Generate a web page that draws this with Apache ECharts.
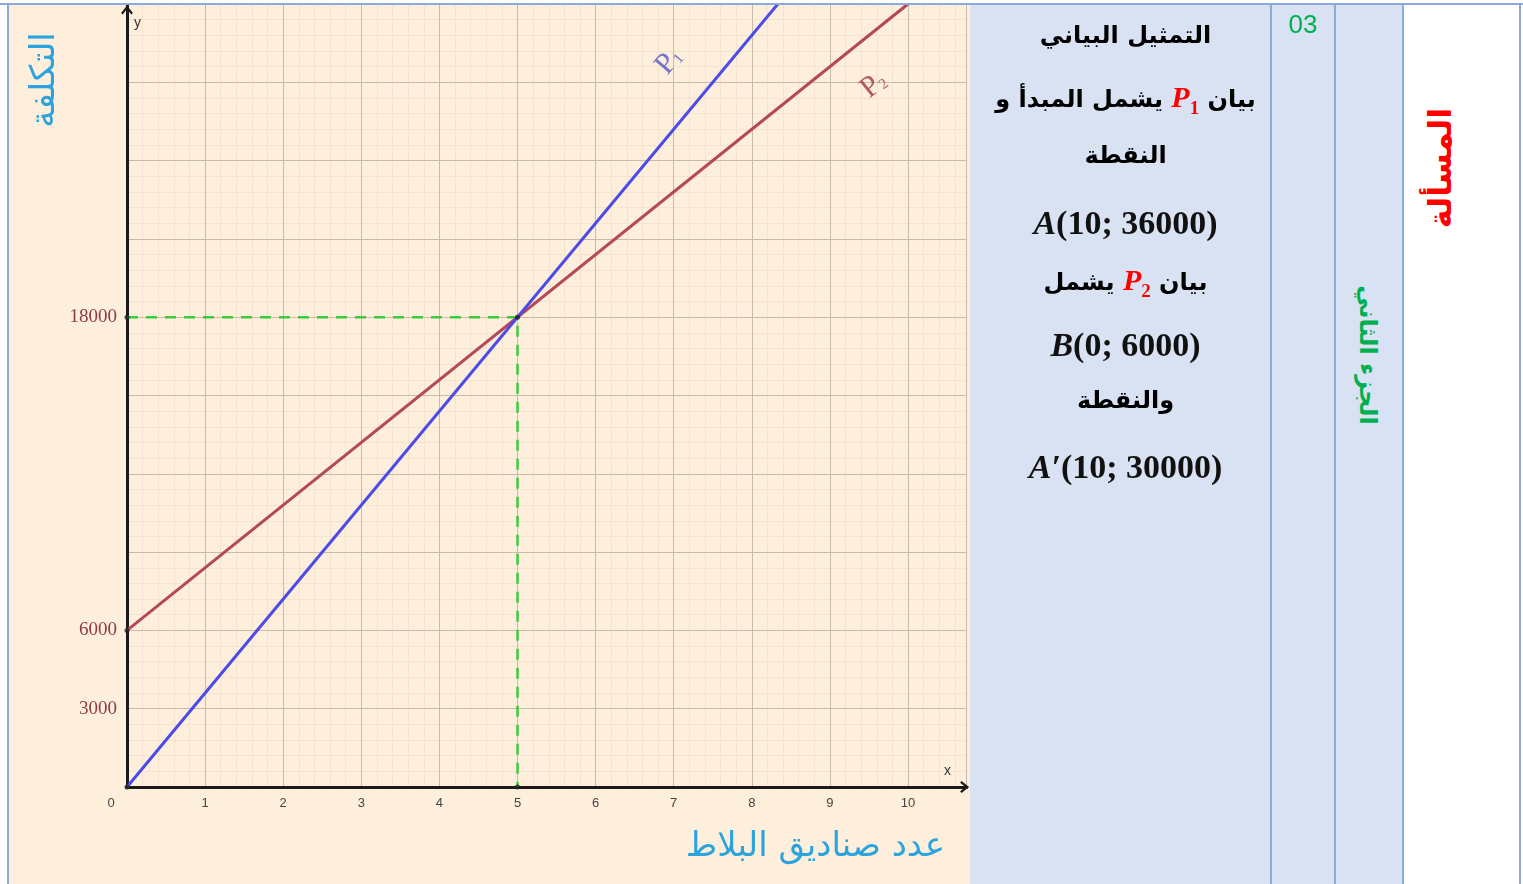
<!DOCTYPE html>
<html>
<head>
<meta charset="utf-8">
<script src="https://cdn.jsdelivr.net/npm/echarts@6/dist/echarts.min.js"></script>
<style>
    body { margin: 0; width: 1523px; height: 884px; overflow: hidden; background: #fff; position: relative; }
    #chart { position: absolute; left: 8px; top: 0; width: 962px; height: 884px; background: #fdefdb; }
    .cell { position: absolute; top: 4px; height: 880px; background: #d9e2f3; }
    .vline { position: absolute; top: 4px; width: 2px; height: 880px; background: #8eaadb; }
    .hline { position: absolute; left: 0; top: 0; width: 1523px; height: 5px; background: #fff; border-bottom: 2px solid #8eaadb; box-sizing: border-box; }
    .ln { position: absolute; left: 975px; width: 301px; height: 44px; line-height: 44px; text-align: center;
          font-family: "DejaVu Sans", sans-serif; font-weight: bold; font-size: 24px; color: #000; white-space: nowrap; }
    .m { font-family: "Liberation Serif", "DejaVu Serif", serif; font-size: 34px; font-weight: bold; color: #111; }
    .p { color: #ff0000; font-family: "Liberation Serif", serif; font-style: italic; font-size: 30px; }
    .p sub { font-style: normal; font-size: 19px; }
    .num { position: absolute; left: 1271px; width: 64px; top: 9px; text-align: center; color: #00b050;
           font-family: "Liberation Sans", sans-serif; font-size: 26px; }
    .rot { position: absolute; font-family: "DejaVu Sans", sans-serif; font-weight: bold; white-space: nowrap; }
</style>
</head>
<body>
<div id="chart"></div>
<div class="cell" style="left:970px; width:433px;"></div>
<div class="hline"></div>
<div class="vline" style="left:7px"></div>
<div class="vline" style="left:1270px"></div>
<div class="vline" style="left:1334px"></div>
<div class="vline" style="left:1402px"></div>
<div class="vline" style="left:1519px"></div>

<div class="num">03</div>
<div class="ln" dir="rtl" style="top:13px">التمثيل البياني</div>
<div class="ln" dir="rtl" style="top:75px">بيان <span class="p">P<sub>1</sub></span> يشمل المبدأ و</div>
<div class="ln" dir="rtl" style="top:133px">النقطة</div>
<div class="ln m" style="top:201px"><i>A</i>(10; 36000)</div>
<div class="ln" dir="rtl" style="top:258px">بيان <span class="p">P<sub>2</sub></span> يشمل</div>
<div class="ln m" style="top:323px"><i>B</i>(0; 6000)</div>
<div class="ln" dir="rtl" style="top:378px">والنقطة</div>
<div class="ln m" style="top:445px"><i>A′</i>(10; 30000)</div>

<div class="rot" dir="rtl" style="left:1368px; top:355px; color:#00b050; font-size:24px; transform: translate(-50%,-50%) rotate(90deg);">الجزء الثاني</div>
<div class="rot" dir="rtl" style="left:1440px; top:168px; color:#ff0000; font-size:32px; transform: translate(-50%,-50%) rotate(-90deg);">المسألة</div>

<script>
    // values
    const xMax = 10.75;
    const yMax = 30000;
    const yLabelValues = [3000, 6000, 18000];
    const p1Points = [[0, 0], [10, 36000]];
    const p2Points = [[0, 6000], [10, 30000]];
    const guidePoints = [[0, 18000], [5, 18000], [5, 0]];
    const markedPoints = [[0, 0], [0, 6000], [0, 18000], [5, 18000], [5, 0]];
    const p1LabelPos = [6.94, 27800];
    const p2LabelPos = [9.56, 26900];

    const chevron = 'path://M5,0 L10,6.4 L8.6,7.6 L5,3 L1.4,7.6 L0,6.4 Z';

    function gridAxis(max, interval, color, z) {
        return {
            type: 'value', min: 0, max: max, interval: interval, z: z,
            axisLine: {show: false}, axisTick: {show: false}, axisLabel: {show: false},
            splitLine: {show: true, lineStyle: {color: color, width: 1}}
        };
    }

    function lineLabel(pos, sub, rot, color) {
        return {
            value: pos,
            label: {
                rotate: rot,
                formatter: '{p|P}{s|' + sub + '}',
                rich: {
                    p: {color: color, fontSize: 30, fontFamily: 'Liberation Serif'},
                    s: {color: color, fontSize: 15, fontFamily: 'Liberation Serif', padding: [12, 0, 0, 0]}
                }
            }
        };
    }

    const chart = echarts.init(document.getElementById('chart'));
    chart.setOption({
        animation: false,
        grid: {left: 119, top: 4, width: 839.6, height: 783},
        xAxis: [
            {
                type: 'value', min: 0, max: xMax, interval: 1, z: 3,
                axisLine: {show: true, onZero: false, symbol: ['none', chevron], symbolSize: [13, 9],
                    symbolOffset: [0, -2], lineStyle: {color: '#1a1a1a', width: 3}},
                axisTick: {show: false},
                splitLine: {show: false},
                axisLabel: {
                    margin: 10, color: '#444', fontSize: 13, fontFamily: 'Liberation Sans',
                    formatter: function (v) {
                        if (v === 0) return '{z|0}';
                        return Number.isInteger(v) ? String(v) : '';
                    },
                    rich: {z: {padding: [0, 32, 0, 0], color: '#444', fontSize: 13, fontFamily: 'Liberation Sans'}}
                }
            },
            gridAxis(xMax, 0.2, '#f6e3cd', 0),
            gridAxis(xMax, 1, '#c9bba9', 1)
        ],
        yAxis: [
            {
                type: 'value', min: 0, max: yMax, interval: 3000, z: 3,
                axisLine: {show: true, onZero: false, symbol: ['none', chevron], symbolSize: [13, 9],
                    symbolOffset: [0, -6], lineStyle: {color: '#1a1a1a', width: 3}},
                axisTick: {show: false},
                splitLine: {show: false},
                axisLabel: {
                    margin: 10, color: '#8e3b46', fontSize: 19, fontFamily: 'Liberation Serif',
                    formatter: function (v) { return yLabelValues.indexOf(v) >= 0 ? String(v) : ''; }
                }
            },
            gridAxis(yMax, 600, '#f6e3cd', 0),
            gridAxis(yMax, 3000, '#c9bba9', 1)
        ],
        series: [
            {
                type: 'line', data: guidePoints, showSymbol: false, z: 4,
                lineStyle: {color: '#3ccb3c', width: 2.5, type: [11, 8]}
            },
            {
                type: 'line', data: p2Points, showSymbol: false, z: 5,
                lineStyle: {color: '#b4475a', width: 3}
            },
            {
                type: 'line', data: p1Points, showSymbol: false, z: 5,
                lineStyle: {color: '#4b4be8', width: 3}
            },
            {
                type: 'scatter', data: markedPoints, symbolSize: 5, z: 6,
                itemStyle: {color: '#222'}
            },
            {
                type: 'scatter', symbolSize: 0, z: 6,
                data: [
                    lineLabel(p1LabelPos, '1', 50, '#5252c4'),
                    lineLabel(p2LabelPos, '2', 39, '#9e3444')
                ],
                label: {show: true, position: 'inside'}
            }
        ],
        graphic: [
            {type: 'text', left: 126, top: 16, z: 10,
                style: {text: 'y', fill: '#333', font: '14px "Liberation Sans"'}},
            {type: 'text', left: 936, top: 764, z: 10,
                style: {text: 'x', fill: '#333', font: '14px "Liberation Sans"'}},
            {type: 'text', right: 25, top: 830, z: 10,
                style: {text: 'عدد صناديق البلاط', fill: '#2ba3de', font: '34px "DejaVu Sans"'}},
            {type: 'text', x: 37, y: 80, rotation: Math.PI / 2, z: 10,
                style: {text: 'التكلفة', fill: '#2ba3de', font: '34px "DejaVu Sans"', align: 'center', verticalAlign: 'middle'}}
        ]
    });
</script>
</body>
</html>
